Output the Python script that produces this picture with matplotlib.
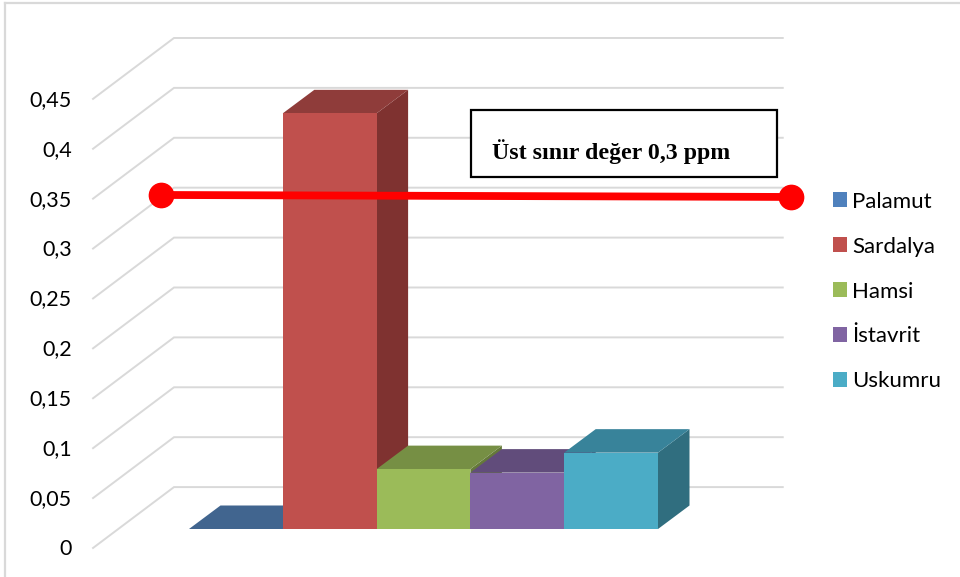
import matplotlib
matplotlib.use('Agg')
import matplotlib.pyplot as plt
from matplotlib.patches import Polygon, Patch, Rectangle

# Data
species = ['Palamut', 'Sardalya', 'Hamsi', 'İstavrit', 'Uskumru']
values = [0, 0.4165, 0.06, 0.0565, 0.0765]
ticks = [0, 0.05, 0.1, 0.15, 0.2, 0.25, 0.3, 0.35, 0.4, 0.45]
tick_labels = ['0', '0,05', '0,1', '0,15', '0,2', '0,25', '0,3', '0,35', '0,4', '0,45']
limit_text = 'Üst sınır değer 0,3 ppm'

front_colors = ['#4F81BD', '#C0504D', '#9BBB59', '#8064A2', '#4BACC6']
top_colors = ['#41658F', '#8F3C3A', '#768F44', '#614C7B', '#38839A']
side_colors = ['#365479', '#7F3230', '#65793A', '#524169', '#306E7F']

plt.rcParams['font.family'] = ['Lato', 'DejaVu Sans']

fig = plt.figure(figsize=(9.6, 5.77), dpi=100)
ax = fig.add_axes([0, 0, 1, 1])
# one category = 93.8 px, one unit of value = 998 px
ax.set_xlim(-189 / 93.8, (960 - 189) / 93.8)
ax.set_ylim(-48 / 998, 529 / 998)
ax.axis('off')

# fake 3d offsets, in data units
bar_dx, bar_dy = 31.5 / 93.8, 23.5 / 998
wall_left, wall_back, wall_right = -0.16, 0.042, 6.33
floor_left, floor_front = -1.023, -0.019

# outer frame of the chart area
ax.plot([-1.96, -1.96], [-0.05, 0.527], color='#D9D9D9', lw=1.6, zorder=1)
ax.plot([-1.96, 8.3], [0.527, 0.527], color='#D9D9D9', lw=1.6, zorder=1)

# gridlines: along the side wall, then along the back wall
for t, lab in zip(ticks, tick_labels):
    ax.plot([floor_left, wall_left, wall_right],
            [t + floor_front, t + wall_back, t + wall_back],
            color='#D9D9D9', lw=1.4, zorder=1, solid_joinstyle='miter')
    ax.text(-1.25, t + floor_front - 0.001, lab, ha='right', va='center',
            fontsize=15.5, color='black')

# bars, left to right so each one overlaps the previous
for i, v in enumerate(values):
    z = 2 + i
    ax.add_patch(Polygon([(i + 1, 0), (i + 1 + bar_dx, bar_dy),
                          (i + 1 + bar_dx, v + bar_dy), (i + 1, v)],
                         fc=side_colors[i], ec='none', zorder=z))
    ax.add_patch(Polygon([(i, v), (i + bar_dx, v + bar_dy),
                          (i + 1 + bar_dx, v + bar_dy), (i + 1, v)],
                         fc=top_colors[i], ec='none', zorder=z))
    ax.add_patch(Rectangle((i, 0), 1, v, fc=front_colors[i], ec='none', zorder=z))

# limit line with round ends
ax.plot([-0.298, 6.42], [0.3347, 0.3327], color='#FF0000', lw=5.6, marker='o',
        ms=17.5, mec='#FF0000', mfc='#FF0000', zorder=20)

# annotation box
ax.add_patch(Rectangle((3.005, 0.3527), 3.262, 0.0671, fc='white', ec='black',
                       lw=1.6, zorder=21))
ax.text(3.235, 0.3782, limit_text, ha='left', va='center', fontsize=17.2,
        fontweight='bold', family='Liberation Serif', color='black', zorder=22)

handles = [Patch(fc=c, ec='none') for c in front_colors]
ax.legend(handles, species, loc='upper left', bbox_to_anchor=(0.8677, 0.668),
          frameon=False, fontsize=16, handlelength=0.63, handleheight=0.63,
          handletextpad=0.24, labelspacing=1.124, borderpad=0, borderaxespad=0)

fig.savefig('out.png', dpi=100)
